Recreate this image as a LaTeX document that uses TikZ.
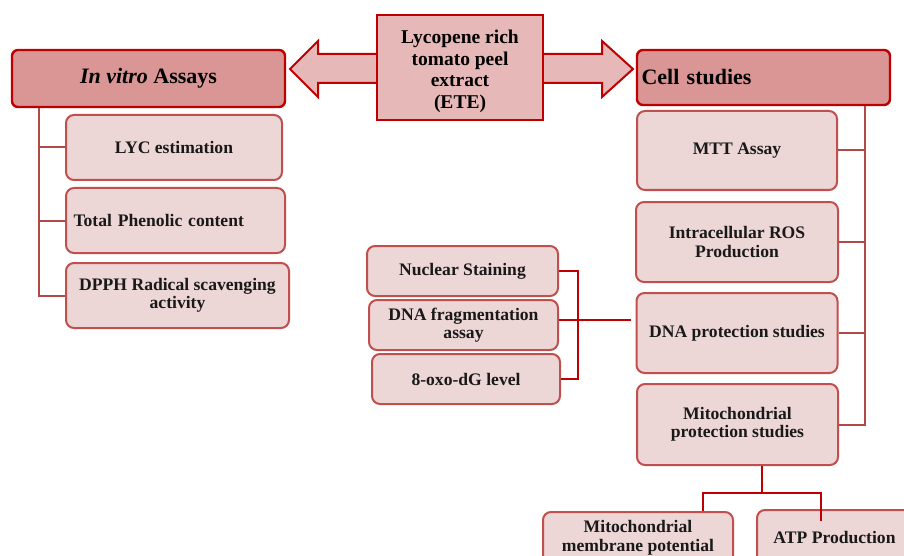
\documentclass[tikz,border=0pt]{standalone}
\usepackage{fontspec}
\setmainfont{Liberation Serif}
\definecolor{hdrfill}{HTML}{D99694}
\definecolor{darkred}{HTML}{C00000}
\definecolor{kidfill}{HTML}{EDD6D6}
\definecolor{kidline}{HTML}{C0504D}
\definecolor{etefill}{HTML}{E6B8B7}
\definecolor{trunkcol}{HTML}{B04A48}
\tikzset{
  hdr/.style={draw=darkred, line width=2.4pt, fill=hdrfill, rounded corners=6pt, font=\bfseries\fontsize{22}{24}\selectfont, inner sep=0pt},
  kid/.style={draw=kidline, line width=2pt, fill=kidfill, rounded corners=8pt, font=\bfseries\fontsize{17.6}{18.5}\selectfont, align=center, inner sep=0pt, text=black!90},
  trunk/.style={draw=trunkcol, line width=2pt},
  thinred/.style={draw=darkred, line width=1.2pt},
  thickred/.style={draw=darkred, line width=2.6pt},
  midred/.style={draw=darkred, line width=1.6pt}
}
\begin{document}
\begin{tikzpicture}[x=1pt,y=-1pt]
\useasboundingbox (0,0) rectangle (904,556);
\clip (0,0) rectangle (904,556);
% double arrow behind the centre box
\draw[draw=darkred, line width=2pt, fill=etefill, line join=miter]
  (290,69) -- (318,41) -- (318,54) -- (602,54) -- (602,41) -- (633,69)
  -- (602,97) -- (602,83) -- (318,83) -- (318,97) -- cycle;
\node[draw=darkred, line width=2pt, fill=etefill, minimum width=166pt, minimum height=105pt,
  inner sep=0pt] (ete) at (460,67.5) {};
\node[inner sep=0pt, align=center, font=\bfseries\fontsize{19.5}{21.5}\selectfont] (etetext) at (460,71.5)
  {Lycopene rich\\tomato peel\\extract\\(ETE)};
% headers
\node[hdr, minimum width=273pt, minimum height=57pt] (invitro) at (148.5,78.5) {\textit{In vitro} Assays};
\node[hdr, minimum width=253pt, minimum height=55pt, text width=244pt, align=left] (cell) at (763.5,77.5) {Cell studies};
% left children
\node[kid, minimum width=216pt, minimum height=65pt] (lyc) at (174,147.5) {LYC estimation};
\node[kid, minimum width=219pt, minimum height=65pt, text width=204pt, align=left] (tpc) at (175.5,220.5) {Total Phenolic content};
\node[kid, minimum width=223pt, minimum height=65pt] (dpph) at (177.5,295.5) {DPPH Radical scavenging\\activity};
% right children
\node[kid, minimum width=200pt, minimum height=79pt] (mtt) at (737,150.5) {MTT Assay};
\node[kid, minimum width=202pt, minimum height=80pt] (ros) at (737,242) {Intracellular ROS\\Production};
\node[kid, minimum width=201pt, minimum height=80pt] (dnap) at (737,333) {DNA protection studies};
\node[kid, minimum width=201pt, minimum height=81pt] (mitop) at (737.5,424.5) {Mitochondrial\\protection studies};
% DNA sub-assays
\node[kid, minimum width=191pt, minimum height=50pt] (nuc) at (462.5,271) {Nuclear Staining};
\node[kid, minimum width=189pt, minimum height=50pt] (frag) at (463.5,325) {DNA fragmentation\\assay};
\node[kid, minimum width=188pt, minimum height=50pt] (oxo) at (466,379) {8-oxo-dG level};
% mitochondrial sub-assays
\node[kid, minimum width=190pt, minimum height=52pt] (mmp) at (638,538) {Mitochondrial\\membrane potential};
\node[kid, minimum width=155pt, minimum height=54pt] (atp) at (834.5,537) {ATP Production};
% coordinates
\coordinate (tl) at (39,0);
\coordinate (tr) at (865,0);
\coordinate (bx) at (578,0);
\coordinate (m1) at (762,493);
\coordinate (mL) at (703,0);
\coordinate (mR) at (821,521);
% left trunk
\draw[trunk] (invitro.south -| tl) -- (tl |- dpph.west) -- (dpph.west);
\draw[trunk] (tl |- lyc.west) -- (lyc.west);
\draw[trunk] (tl |- tpc.west) -- (tpc.west);
% right trunk
\draw[trunk] (cell.south -| tr) -- (tr |- mitop.east) -- (mitop.east);
\draw[trunk] (tr |- mtt.east) -- (mtt.east);
\draw[trunk] (tr |- ros.east) -- (ros.east);
\draw[trunk] (tr |- dnap.east) -- (dnap.east);
% DNA bracket
\draw[thinred] (nuc.east) -- (nuc.east -| bx) -- (oxo.east -| bx) -- (oxo.east);
\draw[thickred] ([yshift=5pt]frag.east) -- ([xshift=-5pt,yshift=5pt]dnap.west |- frag.east);
% mitochondrial connectors
\draw[midred] (mitop.south -| m1) -- (m1) -- (m1 -| mL) -- (mmp.north -| mL);
\draw[midred] (m1) -- (m1 -| mR) -- (mR);
\end{tikzpicture}
\end{document}
